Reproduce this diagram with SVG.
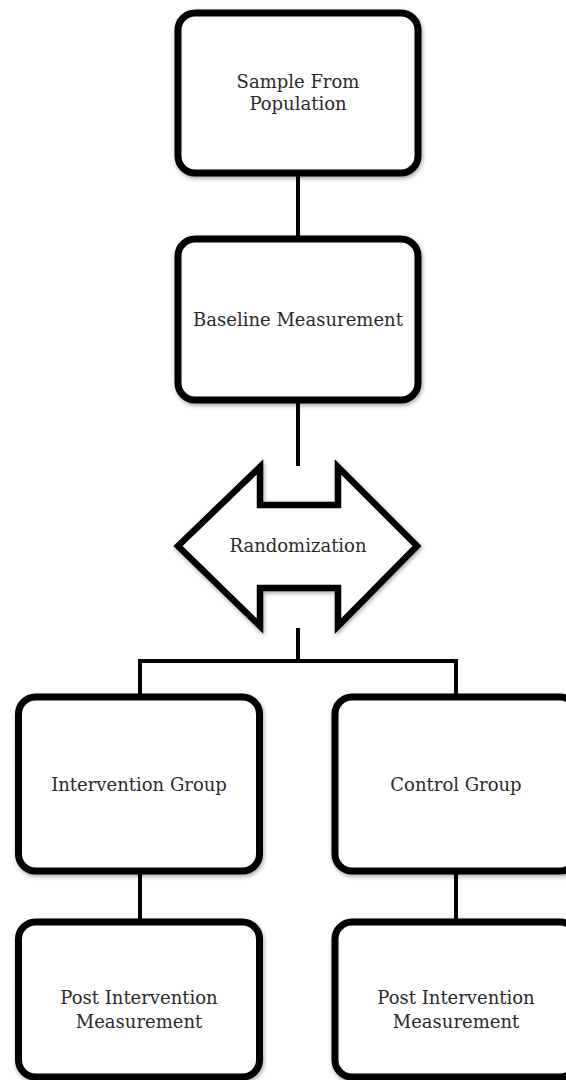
<svg xmlns="http://www.w3.org/2000/svg" width="566" height="1080" viewBox="0 0 566 1080">
<defs>
<filter id="sh" x="-10%" y="-10%" width="120%" height="120%">
<feDropShadow dx="1" dy="2" stdDeviation="2" flood-color="#000" flood-opacity="0.35"/>
</filter>
<style>
.box{fill:#fff;stroke:#000;stroke-width:7;filter:url(#sh)}
.arrow{fill:#fff;stroke:#000;stroke-width:6.5;stroke-linejoin:miter;filter:url(#sh)}
.conn{stroke:#000;stroke-width:4;fill:none}
.lbl{font-family:"DejaVu Serif","Liberation Serif",serif;font-size:18px;fill:#2a2a2a;text-anchor:middle}
</style>
</defs>
<rect width="566" height="1080" fill="#fff"/>
<g id="connectors">
<line class="conn" x1="298" y1="173" x2="298" y2="239"/>
<line class="conn" x1="298" y1="400" x2="298" y2="466"/>
<line class="conn" x1="298" y1="628" x2="298" y2="661"/>
<polyline class="conn" points="140,697 140,661 456,661 456,697"/>
<line class="conn" x1="140" y1="871" x2="140" y2="922"/>
<line class="conn" x1="456" y1="871" x2="456" y2="922"/>
</g>
<g id="sample">
<rect class="box" x="178" y="13" width="240" height="160" rx="17"/>
<text class="lbl" x="298" y="88">Sample From</text>
<text class="lbl" x="298" y="110">Population</text>
</g>
<g id="baseline">
<rect class="box" x="178" y="239" width="240" height="161" rx="17"/>
<text class="lbl" x="298" y="326">Baseline Measurement</text>
</g>
<g id="randomization">
<polygon class="arrow" points="178,546 260,467 260,505 338,505 338,467 417,546 338,626 338,588 260,588 260,626"/>
<text class="lbl" x="298" y="552">Randomization</text>
</g>
<g id="intervention">
<rect class="box" x="18.5" y="697" width="241" height="174" rx="17"/>
<text class="lbl" x="139" y="791">Intervention Group</text>
</g>
<g id="control">
<rect class="box" x="335" y="697" width="242" height="174" rx="17"/>
<text class="lbl" x="456" y="791">Control Group</text>
</g>
<g id="post-intervention">
<rect class="box" x="18.5" y="922" width="241" height="155" rx="17"/>
<text class="lbl" x="139" y="1004">Post Intervention</text>
<text class="lbl" x="139" y="1028">Measurement</text>
</g>
<g id="post-control">
<rect class="box" x="335" y="922" width="242" height="155" rx="17"/>
<text class="lbl" x="456" y="1004">Post Intervention</text>
<text class="lbl" x="456" y="1028">Measurement</text>
</g>
</svg>
